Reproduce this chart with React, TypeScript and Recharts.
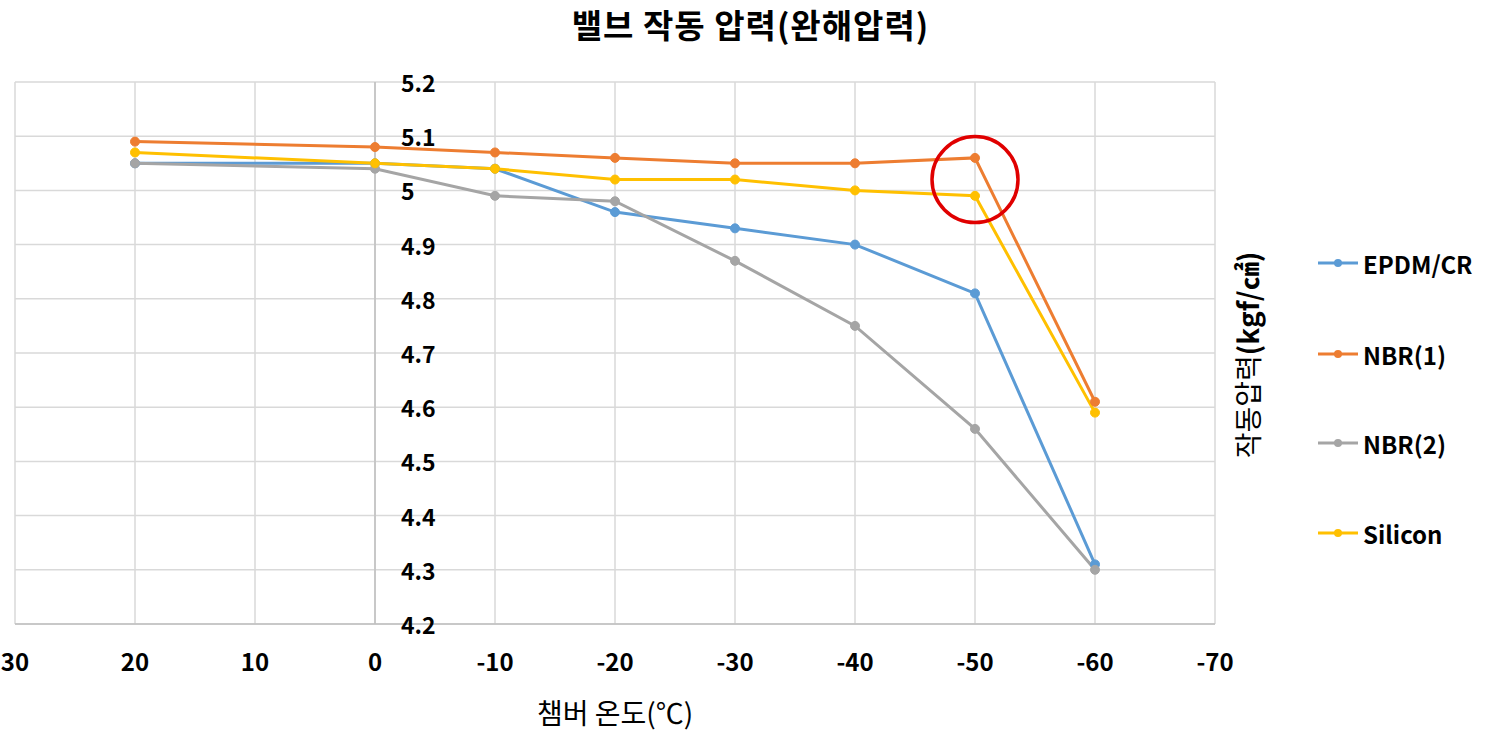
import { LineChart, Line, XAxis, YAxis, CartesianGrid, ReferenceLine, ReferenceDot } from "recharts";

const temps = [20, 0, -10, -20, -30, -40, -50, -60];
const epdmCr = [5.05, 5.05, 5.04, 4.96, 4.93, 4.9, 4.81, 4.31];
const nbr1 = [5.09, 5.08, 5.07, 5.06, 5.05, 5.05, 5.06, 4.61];
const nbr2 = [5.05, 5.04, 4.99, 4.98, 4.87, 4.75, 4.56, 4.3];
const silicon = [5.07, 5.05, 5.04, 5.02, 5.02, 5.0, 4.99, 4.59];

const xTicks = [30, 20, 10, 0, -10, -20, -30, -40, -50, -60, -70];
const yTicks = [4.2, 4.3, 4.4, 4.5, 4.6, 4.7, 4.8, 4.9, 5.0, 5.1, 5.2];

const SERIES = [
  { key: "epdm", name: "EPDM/CR", color: "#5B9BD5" },
  { key: "nbr1", name: "NBR(1)", color: "#ED7D31" },
  { key: "nbr2", name: "NBR(2)", color: "#A5A5A5" },
  { key: "silicon", name: "Silicon", color: "#FFC000" },
];

const data = temps.map((t, i) => ({
  temp: t,
  epdm: epdmCr[i],
  nbr1: nbr1[i],
  nbr2: nbr2[i],
  silicon: silicon[i],
}));

const FONT = "'Noto Sans CJK KR', 'Noto Sans', sans-serif";
const W = 1493;
const H = 734;
const PLOT_LEFT = 15;
const PLOT_RIGHT = 1215;
const PLOT_W = PLOT_RIGHT - PLOT_LEFT;
const Y_AXIS_W = 1;
// 0°C 선의 x 위치 (y축이 0에서 교차)
const ZERO_X = PLOT_LEFT + (PLOT_W * (30 - 0)) / 100;

const XTick = ({ x, y, payload }: any) => (
  <text x={x} y={y + 36} textAnchor="middle" dominantBaseline="central" fontSize={24} fontWeight="bold" fill="#000" fontFamily={FONT}>
    {payload.value}
  </text>
);

const YTick = ({ y, payload }: any) => (
  <text x={ZERO_X + 26} y={y} textAnchor="start" dominantBaseline="central" fontSize={23} fontWeight="bold" fill="#000" fontFamily={FONT}>
    {payload.value}
  </text>
);

export default function App() {
  return (
    <div style={{ position: "absolute", left: 0, top: 0, width: W, height: H, background: "#fff", fontFamily: FONT }}>
      <div style={{ position: "absolute", left: 0, width: W, top: 0, textAlign: "center", fontSize: 33, fontWeight: "bold", color: "#000", paddingLeft: 4, letterSpacing: 1 }}>
        밸브 작동 압력(완해압력)
      </div>

      <LineChart width={W} height={H} data={data} margin={{ top: 82, right: W - PLOT_RIGHT, left: PLOT_LEFT - Y_AXIS_W, bottom: 0 }}>
        <CartesianGrid stroke="#D9D9D9" strokeWidth={1.5} />
        <XAxis
          dataKey="temp"
          type="number"
          domain={[-70, 30]}
          ticks={xTicks}
          reversed
          height={110}
          tickLine={false}
          tickSize={0}
          tickMargin={0}
          axisLine={{ stroke: "#BFBFBF", strokeWidth: 1.5 }}
          tick={<XTick />}
          interval={0}
          label={({ viewBox }: any) => (
            <text x={viewBox.x + viewBox.width / 2} y={viewBox.y + 88} textAnchor="middle" dominantBaseline="central" fontSize={28} fill="#000" fontFamily={FONT}>
              챔버 온도(℃)
            </text>
          )}
        />
        <YAxis
          type="number"
          domain={[4.2, 5.2]}
          ticks={yTicks}
          width={Y_AXIS_W}
          axisLine={false}
          tickLine={false}
          tick={<YTick />}
          interval={0}
        />
        <ReferenceLine x={0} stroke="#BFBFBF" strokeWidth={1.5} />
        {SERIES.map((s) => (
          <Line
            key={s.key}
            dataKey={s.key}
            name={s.name}
            type="linear"
            stroke={s.color}
            strokeWidth={3}
            dot={{ r: 4.5, fill: s.color, stroke: s.color, strokeWidth: 1 }}
            isAnimationActive={false}
          />
        ))}
        <ReferenceDot x={-50} y={5.02} r={43} fill="none" stroke="#E00000" strokeWidth={3.5} />
      </LineChart>

      <div
        style={{
          position: "absolute",
          left: 1247,
          top: 355,
          transform: "translate(-50%, -50%) rotate(-90deg)",
          whiteSpace: "nowrap",
          fontSize: 28,
          color: "#000",
        }}
      >
        작동압력<b>(kgf/㎠)</b>
      </div>

      {SERIES.map((s, i) => (
        <div
          key={s.key}
          style={{
            position: "absolute",
            left: 1318,
            top: [263, 354, 443, 533][i] - 18,
            height: 36,
            display: "flex",
            alignItems: "center",
            gap: 5,
          }}
        >
          <svg width={40} height={10}>
            <line x1={0} y1={5} x2={40} y2={5} stroke={s.color} strokeWidth={3} />
            <circle cx={20} cy={5} r={4} fill={s.color} />
          </svg>
          <span style={{ fontSize: 24, fontWeight: "bold", color: "#000" }}>{s.name}</span>
        </div>
      ))}
    </div>
  );
}
